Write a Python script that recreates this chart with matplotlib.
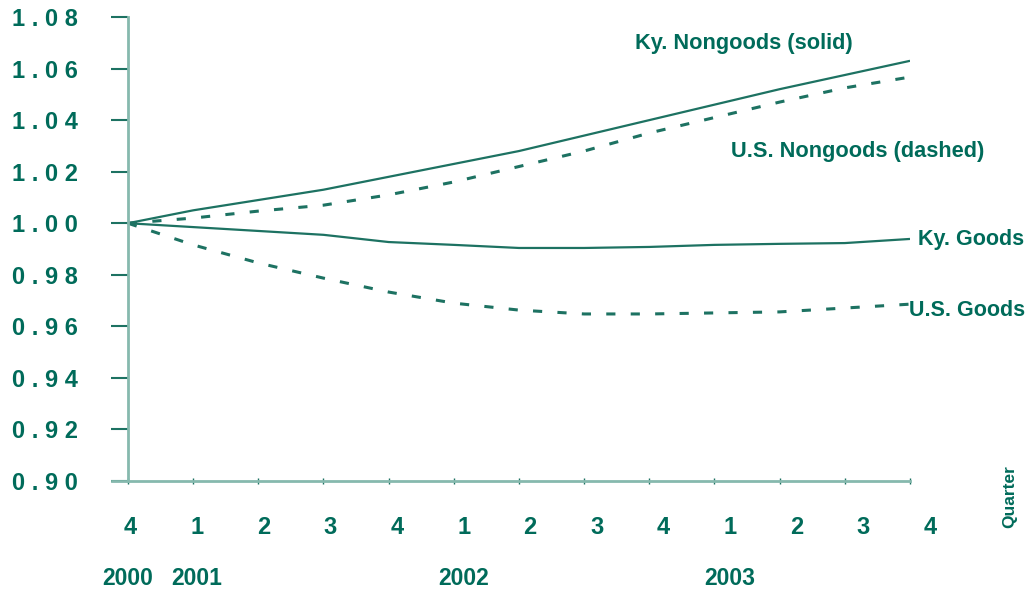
import matplotlib
matplotlib.use("Agg")
import matplotlib.pyplot as plt

# --------- DATA ----------
quarters = ["4", "1", "2", "3", "4", "1", "2", "3", "4", "1", "2", "3", "4"]
years = {0: "2000", 1: "2001", 5: "2002", 9: "2003"}

ky_nongoods = [1.000, 1.005, 1.009, 1.013, 1.018, 1.023, 1.028, 1.034, 1.040, 1.046, 1.052, 1.0575, 1.063]
us_nongoods = [1.000, 1.002, 1.0047, 1.007, 1.011, 1.016, 1.022, 1.028, 1.035, 1.041, 1.047, 1.0525, 1.0567]
ky_goods = [1.000, 0.9985, 0.997, 0.9955, 0.9927, 0.9916, 0.9904, 0.9904, 0.9908, 0.9916, 0.992, 0.9923, 0.9939]
us_goods = [1.000, 0.9916, 0.9846, 0.9787, 0.9733, 0.969, 0.9663, 0.9648, 0.9648, 0.9652, 0.9656, 0.9671, 0.9686]

yticks = [0.90, 0.92, 0.94, 0.96, 0.98, 1.00, 1.02, 1.04, 1.06, 1.08]

TEXT = "#006b5a"
LINE = "#1d7262"
AXIS = "#86b9ae"

plt.rcParams["font.family"] = ["Liberation Sans", "DejaVu Sans"]
plt.rcParams["font.weight"] = "bold"

fig = plt.figure(figsize=(10.26, 5.92), dpi=100)
# left edge sits one tick length left of the y spine
ax = fig.add_axes([112 / 1026, 1 - 481 / 592, (910 - 112) / 1026, (481 - 17) / 592])

x = list(range(len(quarters)))
ax.plot(x, ky_nongoods, color=LINE, lw=1.6, solid_capstyle="butt")
ax.plot(x, ky_goods, color=LINE, lw=1.6, solid_capstyle="butt")
ax.plot(x, us_nongoods, color=LINE, lw=2.2, dashes=(3, 5))
ax.plot(x, us_goods, color=LINE, lw=2.2, dashes=(3, 5))

ax.set_xlim(-0.245, 12)
ax.set_ylim(0.90, 1.08)
ax.spines["left"].set_position(("data", 0))
ax.spines["top"].set_visible(False)
ax.spines["right"].set_visible(False)
for s in ["left", "bottom"]:
    ax.spines[s].set_color(AXIS)
    ax.spines[s].set_linewidth(2)

ax.set_yticks(yticks)
ax.set_yticklabels([" ".join(f"{v:.2f}") for v in yticks])
ax.tick_params(axis="y", direction="out", length=12, width=1.5, color=LINE,
               labelsize=17, labelcolor=TEXT, pad=24)
ax.set_xticks(x)
ax.set_xticklabels([])
ax.tick_params(axis="x", direction="inout", length=5, width=1, color=LINE)

# quarter and year labels
for i, q in enumerate(quarters):
    ax.text(i * 1.022 + 0.04, -0.1, q, transform=ax.get_xaxis_transform(),
            ha="center", va="center", fontsize=17, color=TEXT, fontweight="bold")
for i, yr in years.items():
    xpos = i * 1.022 + 0.04 if i > 0 else 0
    ax.text(xpos, -0.21, yr, transform=ax.get_xaxis_transform(),
            ha="center", va="center", fontsize=16.5, color=TEXT, fontweight="bold")

fig.text(1010 / 1026, 1 - 497 / 592, "Quarter", rotation=90, ha="center", va="center",
         fontsize=12.5, color=TEXT, fontweight="bold")

# series labels
ax.text(635 / 1026, 1 - 44 / 592, "Ky. Nongoods (solid)", transform=fig.transFigure,
        ha="left", va="center", fontsize=15.7, color=TEXT, fontweight="bold")
ax.text(731 / 1026, 1 - 152 / 592, "U.S. Nongoods (dashed)", transform=fig.transFigure,
        ha="left", va="center", fontsize=15.7, color=TEXT, fontweight="bold")
ax.text(918 / 1026, 1 - 239 / 592, "Ky. Goods", transform=fig.transFigure,
        ha="left", va="center", fontsize=15.5, color=TEXT, fontweight="bold")
ax.text(909 / 1026, 1 - 311 / 592, "U.S. Goods", transform=fig.transFigure,
        ha="left", va="center", fontsize=15.5, color=TEXT, fontweight="bold")

fig.savefig("out.png", dpi=100)
